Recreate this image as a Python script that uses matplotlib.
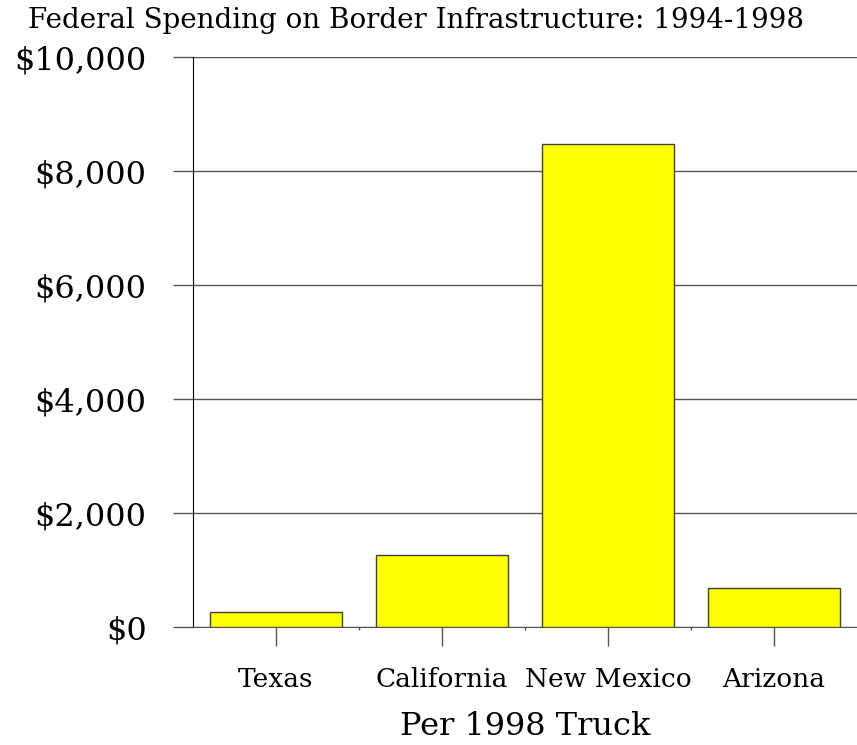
import matplotlib.pyplot as plt
from matplotlib.ticker import FuncFormatter

states = ['Texas', 'California', 'New Mexico', 'Arizona']
spending = [258, 1263, 8474, 679]
yticks = [0, 2000, 4000, 6000, 8000, 10000]

plt.rcParams['font.family'] = 'DejaVu Serif'

fig = plt.figure(figsize=(8.57, 7.45), dpi=100)
ax = fig.add_axes([193 / 857, 118 / 745, 664 / 857, 570 / 745])

x = range(len(states))
ax.bar(x, spending, width=0.8, color='#ffff00', edgecolor='#404040', linewidth=1, zorder=3)

ax.set_xlim(-0.5, len(states) - 0.5)
ax.set_ylim(0, 10000)
ax.set_yticks(yticks)
ax.yaxis.set_major_formatter(FuncFormatter(lambda v, p: '${:,.0f}'.format(v)))
ax.yaxis.grid(True, color='#555555', linewidth=1)
ax.set_axisbelow(True)

ax.set_xticks(list(x))
ax.set_xticklabels(states)
ax.set_xticks([0.5, 1.5, 2.5], minor=True)

for s in ['top', 'right']:
    ax.spines[s].set_visible(False)
ax.spines['left'].set_color('black')
ax.spines['bottom'].set_color('#555555')

ax.tick_params(axis='y', length=14.4, width=1, color='#555555', pad=19, labelsize=23)
ax.tick_params(axis='x', which='major', length=13.7, width=1, color='#555555', pad=15, labelsize=19)
ax.tick_params(axis='x', which='minor', length=2, width=1, color='#555555')

ax.set_xlabel('Per 1998 Truck', fontsize=23, labelpad=14)
fig.text(416 / 857, 1 - 20 / 745, 'Federal Spending on Border Infrastructure: 1994-1998',
         fontsize=20, ha='center', va='center')

fig.savefig('out.png', dpi=100)
